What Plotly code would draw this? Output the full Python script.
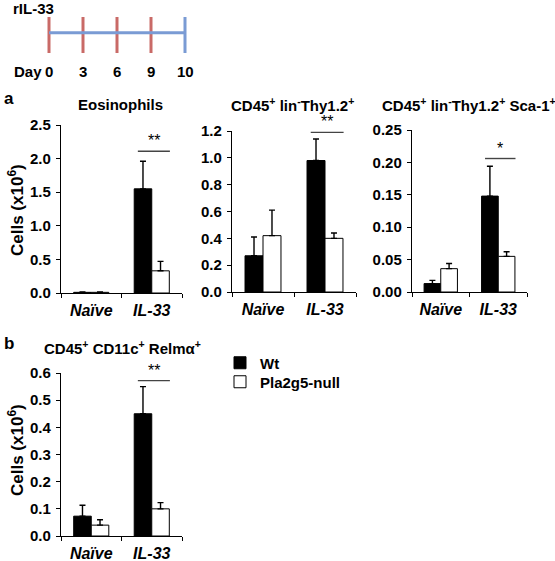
import plotly.graph_objects as go

# ---------------- data ----------------
categories = ["Naïve", "IL-33"]
cat_labels = ["<i>Naïve</i>", "<i>IL-33</i>"]

eos_wt = [0.01, 1.55]
eos_wt_err = [0.004, 0.41]
eos_null = [0.01, 0.33]
eos_null_err = [0.004, 0.14]

thy_wt = [0.27, 0.98]
thy_wt_err = [0.14, 0.16]
thy_null = [0.42, 0.40]
thy_null_err = [0.19, 0.04]

sca_wt = [0.013, 0.148]
sca_wt_err = [0.005, 0.046]
sca_null = [0.036, 0.055]
sca_null_err = [0.008, 0.007]

relm_wt = [0.073, 0.45]
relm_wt_err = [0.04, 0.10]
relm_null = [0.04, 0.10]
relm_null_err = [0.02, 0.023]

sig_levels = [2.11, 1.19, 0.206, 0.572]
sig_labels = ["**", "**", "*", "**"]

panel_titles = ["Eosinophils",
                "CD45<sup>+</sup> lin<sup>-</sup>Thy1.2<sup>+</sup>",
                "CD45<sup>+</sup> lin<sup>-</sup>Thy1.2<sup>+</sup> Sca-1<sup>+</sup>",
                "CD45<sup>+</sup> CD11c<sup>+</sup> Relmα<sup>+</sup>"]
y_tops = [2.5, 1.2, 0.25, 0.6]
y_dticks = [0.5, 0.2, 0.05, 0.1]
y_formats = [".1f", ".1f", ".2f", ".1f"]

days = ["0", "3", "6", "9", "10"]
day_colors = ["red", "red", "red", "red", "blue"]

W, H = 555, 561
FONT = "Liberation Sans, Arial, sans-serif"


def px_x(p):
    return p / W


def px_y(p):
    return 1 - p / H


# panel pixel boxes (left, right, bottom, top)
boxes = [(61, 182, 293, 125), (232, 356, 292, 131), (412, 527, 292, 130), (61, 182, 536, 373)]

series = [
    (eos_wt, eos_wt_err, eos_null, eos_null_err),
    (thy_wt, thy_wt_err, thy_null, thy_null_err),
    (sca_wt, sca_wt_err, sca_null, sca_null_err),
    (relm_wt, relm_wt_err, relm_null, relm_null_err),
]

fig = go.Figure()
annotations = []
shapes = []

for i, (box, (wt, wte, nl, nle)) in enumerate(zip(boxes, series)):
    k = "" if i == 0 else str(i + 1)
    xa, ya = "x" + k, "y" + k
    fig.add_trace(go.Bar(
        x=categories, y=wt, name="Wt", xaxis=xa, yaxis=ya,
        marker=dict(color="black", line=dict(color="black", width=1)),
        error_y=dict(type="data", symmetric=False, array=wte, arrayminus=[0] * len(wte),
                     color="black", thickness=1.4, width=3),
        showlegend=(i == 0), offsetgroup="wt", legend="legend"))
    fig.add_trace(go.Bar(
        x=categories, y=nl, name="Pla2g5-null", xaxis=xa, yaxis=ya,
        marker=dict(color="white", line=dict(color="black", width=1)),
        error_y=dict(type="data", symmetric=False, array=nle, arrayminus=[0] * len(nle),
                     color="black", thickness=1.4, width=3),
        showlegend=(i == 0), offsetgroup="null", legend="legend2"))

    l, r, b, t = box
    fig.layout["xaxis" + k] = dict(
        domain=[px_x(l), px_x(r)], anchor=ya, type="category", automargin=False,
        range=[-0.5, 1.5], showline=True, linecolor="black", linewidth=1.4,
        ticks="outside", tickson="boundaries", ticklen=4, tickwidth=1.4, tickcolor="black",
        tickvals=categories, ticktext=cat_labels, ticklabelstandoff=3,
        tickfont=dict(family=FONT, size=16, color="black", weight="bold"),
        showgrid=False, zeroline=False)
    fig.layout["yaxis" + k] = dict(
        domain=[px_y(b), px_y(t)], anchor=xa, range=[0, y_tops[i]], automargin=False,
        dtick=y_dticks[i], tickformat=y_formats[i], showline=True, linecolor="black",
        linewidth=1.4, ticks="outside", ticklen=4, tickwidth=1.4, tickcolor="black",
        ticklabelstandoff=2,
        tickfont=dict(family=FONT, size=15, color="black", weight="bold"),
        showgrid=False, zeroline=False)

    # significance
    shapes.append(dict(type="line", xref=xa, yref=ya, x0=0.77, x1=1.3,
                       y0=sig_levels[i], y1=sig_levels[i], line=dict(color="#444", width=1.4)))
    annotations.append(dict(xref=xa, yref=ya, x=1.03, y=sig_levels[i], yanchor="bottom",
                            yshift=0, text=sig_labels[i], showarrow=False,
                            font=dict(family=FONT, size=16, color="black")))

# panel titles
title_pos = [(120, 104), (292, 104), (469, 104), (122, 347)]
for (tx, ty), txt in zip(title_pos, panel_titles):
    annotations.append(dict(xref="paper", yref="paper", x=px_x(tx), y=px_y(ty),
                            text=txt, showarrow=False, xanchor="center", yanchor="middle",
                            font=dict(family=FONT, size=15, color="black", weight="bold")))

# y titles
for cy in [210, 450]:
    annotations.append(dict(xref="paper", yref="paper", x=px_x(16), y=px_y(cy),
                            text="Cells (x10<sup>6</sup>)", textangle=-90, showarrow=False,
                            xanchor="center", yanchor="middle",
                            font=dict(family=FONT, size=17, color="black", weight="bold")))

# panel letters
annotations.append(dict(xref="paper", yref="paper", x=px_x(9), y=px_y(98), text="a",
                        showarrow=False, xanchor="center", yanchor="middle",
                        font=dict(family=FONT, size=17, color="black", weight="bold")))
annotations.append(dict(xref="paper", yref="paper", x=px_x(9), y=px_y(343), text="b",
                        showarrow=False, xanchor="center", yanchor="middle",
                        font=dict(family=FONT, size=17, color="black", weight="bold")))

# ---------------- timeline ----------------
idx = list(range(len(days)))
red_x, red_y, blue_x, blue_y = [], [], [], []
for j, c in zip(idx, day_colors):
    if c == "red":
        red_x += [j, j, None]
        red_y += [0, 1, None]
    else:
        blue_x += [j, j, None]
        blue_y += [0, 1, None]

fig.add_trace(go.Scatter(x=red_x, y=red_y, mode="lines", xaxis="x5", yaxis="y5",
                         line=dict(color="#c0504d", width=3), opacity=0.85,
                         showlegend=False, hoverinfo="skip"))
fig.add_trace(go.Scatter(x=[idx[0], idx[-1]], y=[0.56, 0.56], mode="lines", xaxis="x5", yaxis="y5",
                         line=dict(color="#7a9bd4", width=3), showlegend=False, hoverinfo="skip"))
fig.add_trace(go.Scatter(x=blue_x, y=blue_y, mode="lines", xaxis="x5", yaxis="y5",
                         line=dict(color="#7a9bd4", width=3), showlegend=False, hoverinfo="skip"))

fig.layout["xaxis5"] = dict(domain=[px_x(45.6), px_x(188.4)], range=[-0.1, 4.1], anchor="y5",
                            visible=False, automargin=False)
fig.layout["yaxis5"] = dict(domain=[px_y(53), px_y(17)], range=[0, 1], anchor="x5",
                            visible=False, automargin=False)

for j, d in zip(idx, days):
    annotations.append(dict(xref="x5", yref="paper", x=j, y=px_y(71), text=d,
                            showarrow=False, xanchor="center", yanchor="middle",
                            font=dict(family=FONT, size=15, color="black", weight="bold")))
annotations.append(dict(xref="paper", yref="paper", x=px_x(27.5), y=px_y(71), text="Day",
                        showarrow=False, xanchor="center", yanchor="middle",
                        font=dict(family=FONT, size=15, color="black", weight="bold")))
annotations.append(dict(xref="paper", yref="paper", x=px_x(33), y=px_y(8), text="rIL-33",
                        showarrow=False, xanchor="center", yanchor="middle",
                        font=dict(family=FONT, size=15, color="black", weight="bold")))

legend_style = dict(xanchor="left", yanchor="middle",
                    font=dict(family=FONT, size=15, color="black", weight="bold"),
                    bgcolor="rgba(0,0,0,0)", borderwidth=0)

fig.update_layout(
    width=W, height=H, margin=dict(l=0, r=0, t=0, b=0, pad=0, autoexpand=False),
    paper_bgcolor="white", plot_bgcolor="white",
    barmode="group", bargap=0.42, bargroupgap=0,
    annotations=annotations, shapes=shapes,
    legend=dict(x=px_x(220), y=px_y(363), **legend_style),
    legend2=dict(x=px_x(220), y=px_y(382), **legend_style),
    font=dict(family=FONT, color="black"),
)

# remove the browser's default 8px page margin so the figure sits at the window origin
fig.write_html("out.html", config={"displayModeBar": False},
               post_script="document.body.style.margin='0px';")
